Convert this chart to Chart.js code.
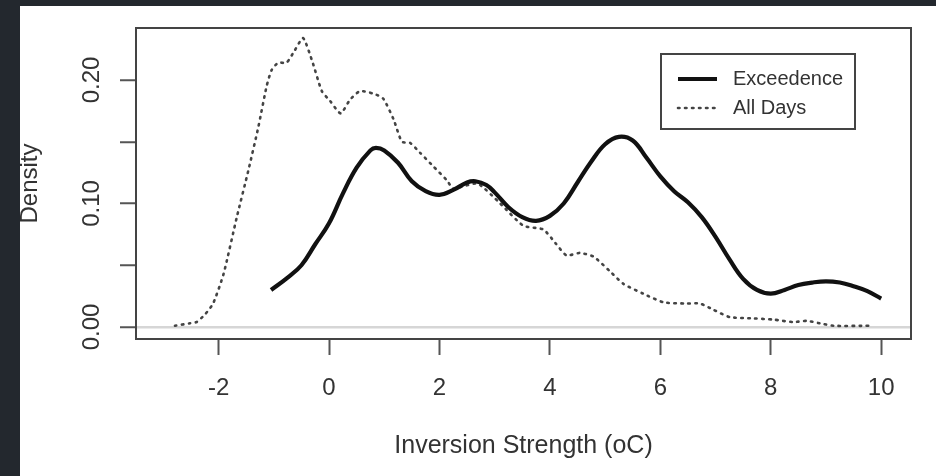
<!DOCTYPE html>
<html lang="en">
  <head>
    <meta charset="utf-8">
    <title>Inversion Strength Density</title>
    <style>
      body{ margin: 0; background-color: #23282e; }
      #panel{ position: absolute; left: 20px; top: 6px; width: 916px; height: 470px; background: #fff; }
      canvas{ display: block; }
    </style>
  </head>
  <body>
    <div id="panel"><canvas id="densityChart" width="916" height="470"></canvas></div>
  </body>
  <script src="https://cdn.jsdelivr.net/npm/chart.js@4/dist/chart.umd.min.js"></script>
  <script>
  // axis ticks
  var xTicks = [-2, 0, 2, 4, 6, 8, 10];
  var yTicks = [0, 0.05, 0.10, 0.15, 0.20];
  var yLabelled = [0, 0.10, 0.20];

  // Exceedence density
  var excX = [-1.05, -0.75, -0.5, -0.25, 0, 0.25, 0.5, 0.75, 0.85, 1.0, 1.25, 1.5, 1.75, 2.0, 2.25, 2.5, 2.65, 2.85,
              3.0, 3.25, 3.5, 3.75, 4.0, 4.25, 4.5, 4.75, 5.0, 5.25, 5.5, 5.75, 6.0, 6.25, 6.5, 6.75, 7.0, 7.25, 7.5,
              7.75, 8.0, 8.25, 8.5, 8.75, 9.0, 9.25, 9.5, 9.75, 10.0];
  var excY = [0.030, 0.040, 0.050, 0.067, 0.084, 0.108, 0.129, 0.143, 0.145, 0.143, 0.133, 0.118, 0.110, 0.107, 0.111, 0.117, 0.118, 0.115,
              0.109, 0.097, 0.089, 0.086, 0.090, 0.100, 0.117, 0.134, 0.148, 0.154, 0.151, 0.137, 0.122, 0.110, 0.101, 0.089, 0.073, 0.055, 0.039,
              0.030, 0.027, 0.030, 0.034, 0.036, 0.037, 0.036, 0.033, 0.029, 0.023];

  // All Days density
  var allX = [-2.79, -2.52, -2.40, -2.25, -2.10, -1.91, -1.67, -1.46, -1.28, -1.13, -1.04, -0.92, -0.77, -0.62, -0.47, -0.31, -0.13,
              0.02, 0.21, 0.38, 0.56, 0.80, 0.98, 1.17, 1.32, 1.47, 1.65, 1.89, 2.13, 2.25, 2.43, 2.70, 3.10, 3.52, 3.88, 4.10,
              4.30, 4.54, 4.79, 5.09, 5.33, 5.69, 6.06, 6.48, 6.72, 6.96, 7.26, 7.69, 8.05, 8.41, 8.65, 8.89, 9.14, 9.80];
  var allY = [0.001, 0.003, 0.004, 0.010, 0.019, 0.043, 0.089, 0.127, 0.162, 0.195, 0.208, 0.214, 0.214, 0.224, 0.234, 0.216, 0.191,
              0.183, 0.173, 0.184, 0.191, 0.189, 0.185, 0.168, 0.150, 0.149, 0.141, 0.130, 0.119, 0.112, 0.114, 0.116, 0.100, 0.082, 0.079, 0.068,
              0.058, 0.060, 0.057, 0.045, 0.035, 0.027, 0.020, 0.019, 0.019, 0.014, 0.008, 0.007, 0.006, 0.004, 0.005, 0.003, 0.001, 0.001];

  var family = '"Liberation Sans", Arial, sans-serif';
  var ink = '#333';

  function toPoints(xs, ys){
    return xs.map(function(x, i){ return {x: x, y: ys[i]}; });
  }

  // plot frame (box round the plot region)
  var frame = {
    id: 'frame',
    afterDatasetsDraw: function(chart){
      var a = chart.chartArea, c = chart.ctx;
      c.save();
      c.strokeStyle = '#444';
      c.lineWidth = 2;
      c.strokeRect(a.left, a.top, a.right - a.left, a.bottom - a.top);
      c.restore();
    }
  };

  // boxed legend, top right inside the plot
  var keyBox = {
    id: 'keyBox',
    afterDraw: function(chart){
      var a = chart.chartArea, c = chart.ctx;
      var w = 194, h = 75, x = a.right - 56 - w, y = a.top + 26;
      c.save();
      c.fillStyle = '#fff';
      c.fillRect(x, y, w, h);
      c.strokeStyle = '#444';
      c.lineWidth = 2;
      c.strokeRect(x, y, w, h);
      c.font = '20px ' + family;
      c.textBaseline = 'middle';
      chart.data.datasets.forEach(function(ds, i){
        var ly = y + 25 + i * 29;
        c.beginPath();
        c.setLineDash(ds.borderDash || []);
        c.lineCap = ds.borderCapStyle || 'butt';
        c.lineWidth = ds.borderWidth;
        c.strokeStyle = ds.borderColor;
        c.moveTo(x + 17, ly);
        c.lineTo(x + 56, ly);
        c.stroke();
        c.setLineDash([]);
        c.fillStyle = ink;
        c.fillText(ds.label, x + 72, ly);
      });
      c.restore();
    }
  };

  var ctx = document.getElementById('densityChart').getContext('2d');
  var chart = new Chart(ctx, {
    type: 'line',
    data: {
      datasets: [
        {label: 'Exceedence', data: toPoints(excX, excY), borderColor: '#111', borderWidth: 4.2,
         pointRadius: 0, tension: 0.4, fill: false},
        {label: 'All Days', data: toPoints(allX, allY), borderColor: '#444', borderWidth: 2.6,
         borderDash: [1.5, 5.5], borderCapStyle: 'round', pointRadius: 0, tension: 0.2, fill: false}
      ]
    },
    options: {
      responsive: false,
      animation: false,
      layout: {padding: {top: 22, right: 25, left: 0, bottom: 0}},
      plugins: {legend: {display: false}, tooltip: {enabled: false}},
      scales: {
        x: {
          type: 'linear', min: -3.496, max: 10.54,
          afterBuildTicks: function(s){ s.ticks = xTicks.map(function(v){ return {value: v}; }); },
          afterFit: function(s){ s.height = 137; },
          ticks: {font: {family: family, size: 24}, color: ink, padding: 19, callback: function(v){ return String(v); }},
          grid: {drawOnChartArea: false, drawTicks: true, tickLength: 16, tickColor: '#555', tickWidth: 2},
          border: {display: false},
          title: {display: true, text: 'Inversion Strength (oC)', color: ink, font: {family: family, size: 25}, padding: {top: 0, bottom: 15}}
        },
        y: {
          min: -0.0097, max: 0.2421,
          afterBuildTicks: function(s){ s.ticks = yTicks.map(function(v){ return {value: v}; }); },
          afterFit: function(s){ s.width = 116; },
          ticks: {
            font: {family: family, size: 24}, color: ink, minRotation: 90, maxRotation: 90,
            crossAlign: 'center', padding: 4,
            callback: function(v){
              var hit = yLabelled.some(function(t){ return Math.abs(t - v) < 1e-9; });
              return hit ? v.toFixed(2) : '';
            }
          },
          grid: {
            drawTicks: true, tickLength: 16, tickColor: '#555', tickWidth: 2, lineWidth: 2.5,
            color: function(c){ return (c.tick && Math.abs(c.tick.value) < 1e-9) ? '#d6d6d6' : 'rgba(0,0,0,0)'; }
          },
          border: {display: false},
          title: {display: true, text: 'Density', color: ink, font: {family: family, size: 24, lineHeight: 0.9}, padding: {top: 0, bottom: 0}}
        }
      }
    },
    plugins: [frame, keyBox]
  });
  </script>
</html>
